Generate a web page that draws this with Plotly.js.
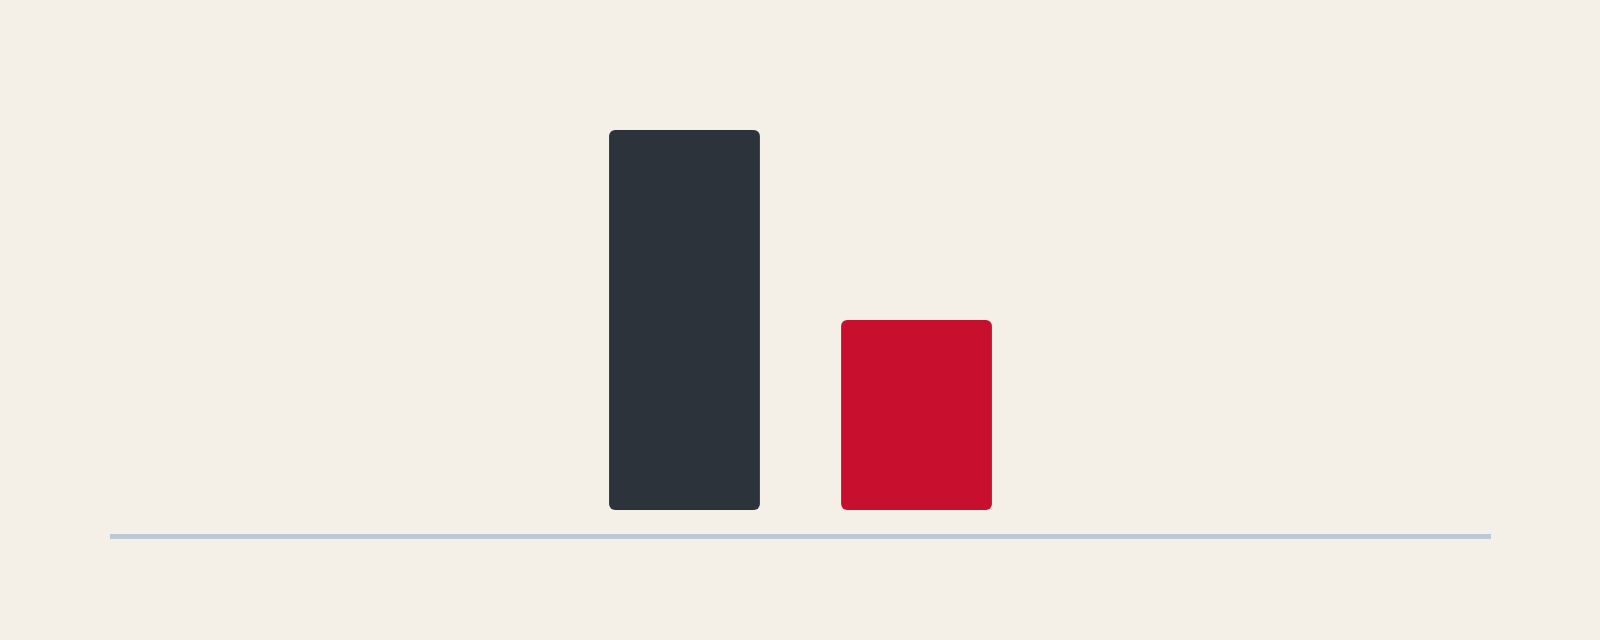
<!DOCTYPE html>
<html>
<head>
<meta charset="utf-8">
<script src="https://cdn.plot.ly/plotly-3.0.1.min.js"></script>
<style>
  html, body { margin: 0; padding: 0; background: #f4f0e8; }
  #chart_area { width: 1600px; height: 640px; }
</style>
</head>
<body>
<div id="chart_area"></div>
<script>
var categories = ['A', 'B'];
var values = [100, 50];
var barColors = ['#2d333b', '#c8102e'];

function draw_chart() {
  // an explicit base makes plotly round both ends of the bar
  var bars = {
    type: 'bar',
    x: categories,
    y: values,
    base: values.map(function () { return 0; }),
    marker: { color: barColors, cornerradius: 6 },
    hoverinfo: 'skip'
  };

  var layout = {
    showlegend: false,
    barmode: 'overlay',
    bargap: 0.35,
    paper_bgcolor: '#f4f0e8',
    plot_bgcolor: '#f4f0e8',
    margin: { l: 110, r: 109, t: 92, b: 106 },
    xaxis: {
      type: 'category',
      range: [-2.476, 3.476],
      showgrid: false, zeroline: false, showticklabels: false, ticks: '',
      showline: true, linecolor: '#bccad6', linewidth: 5
    },
    yaxis: {
      range: [-6.3, 110],
      showgrid: false, zeroline: false, showticklabels: false, ticks: '',
      showline: false
    }
  };

  var config = { responsive: false, displayModeBar: false, staticPlot: true };

  Plotly.newPlot('chart_area', [bars], layout, config);
}

draw_chart();
</script>
</body>
</html>
